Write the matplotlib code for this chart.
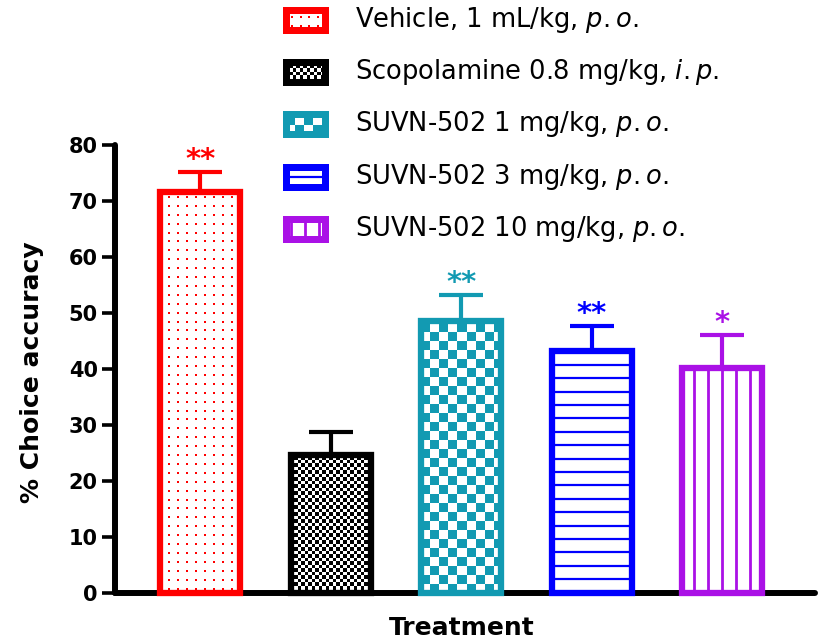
import numpy as np
import matplotlib

matplotlib.use("Agg")
import matplotlib.pyplot as plt
from matplotlib.colors import ListedColormap
from matplotlib.patches import Rectangle


# data
GROUP_LABELS = [
    "Vehicle, 1 mL/kg, ",
    "Scopolamine 0.8 mg/kg, ",
    "SUVN-502 1 mg/kg, ",
    "SUVN-502 3 mg/kg, ",
    "SUVN-502 10 mg/kg, ",
]
ROUTES = ["p.o.", "i.p.", "p.o.", "p.o.", "p.o."]
MEANS = [71.6, 24.6, 48.5, 43.2, 40.2]
SEMS = [3.6, 4.1, 4.7, 4.5, 5.9]
STARS = ["**", "", "**", "**", "*"]
YTICKS = [0, 10, 20, 30, 40, 50, 60, 70, 80]

COLORS = ["#ff0000", "#000000", "#129ab2", "#0000ff", "#aa11e6"]
PATTERNS = ["dots", "fine_check", "check", "hlines", "vlines"]

FIG_W, FIG_H, DPI = 819, 642, 100
plt.rcParams["font.family"] = ["DejaVu Sans"]


def add_pattern(ax, rect, kind, color, sx, sy, z):
    """Fill a rectangle with a GraphPad-like pattern. sx/sy are px per data unit."""
    x0, y0 = rect.get_x(), rect.get_y()
    w, h = rect.get_width(), rect.get_height()
    cx, cy = x0 + w / 2, y0 + h / 2
    arts = []
    if kind == "dots":
        step = 8.9
        n = int(w * sx / step) + 2
        xs = cx + (np.arange(-n, n) + 0.5) * step / sx
        xs = xs[(xs > x0) & (xs < x0 + w)]
        ys = y0 + (np.arange(int(h * sy / step) + 2) + 0.5) * step / sy
        ys = ys[ys < y0 + h]
        gx, gy = np.meshgrid(xs, ys)
        arts.append(ax.scatter(gx.ravel(), gy.ravel(), s=4.5, marker="s",
                               color=color, linewidths=0, zorder=z))
    elif kind in ("check", "fine_check"):
        sq = 3.5 if kind == "fine_check" else 9.0
        nx = int(np.ceil(w * sx / sq)) + 1
        ny = int(np.ceil(h * sy / sq)) + 1
        board = np.add.outer(np.arange(ny), np.arange(nx)) % 2
        im = ax.imshow(board, cmap=ListedColormap(["white", color]), origin="lower",
                       extent=(x0, x0 + nx * sq / sx, y0, y0 + ny * sq / sy),
                       interpolation="nearest", aspect="auto", zorder=z)
        arts.append(im)
    elif kind == "hlines":
        step = 13.4
        n = int(h * sy / step) + 2
        ys = cy + np.arange(-n, n + 1) * step / sy
        ys = ys[(ys > y0) & (ys < y0 + h)]
        arts.append(ax.hlines(ys, x0, x0 + w, color=color, lw=1.6, zorder=z))
    elif kind == "vlines":
        step = 14.0
        n = int(w * sx / step) + 2
        xs = cx + np.arange(-n, n + 1) * step / sx
        xs = xs[(xs > x0) & (xs < x0 + w)]
        arts.append(ax.vlines(xs, y0, y0 + h, color=color, lw=2.0, zorder=z))
    for a in arts:
        a.set_clip_path(rect)


def px_scale(ax):
    p = ax.transData.transform([(0, 0), (1, 1)])
    return p[1, 0] - p[0, 0], p[1, 1] - p[0, 1]


fig = plt.figure(figsize=(FIG_W / DPI, FIG_H / DPI), dpi=DPI)
ax = fig.add_axes([115 / FIG_W, 49 / FIG_H, 700 / FIG_W, 448 / FIG_H])
xlim = (-0.655, 4.709)
ylim = (0, 80)
ax.set_xlim(*xlim)
ax.set_ylim(*ylim)
ax.set_autoscale_on(False)
sx, sy = px_scale(ax)

x = np.arange(len(MEANS))
bar_w = 80 / sx
edge_lw = 6.3 * 72 / DPI

bars = ax.bar(x, MEANS, width=bar_w, color="white", edgecolor="none", zorder=1)
for xi, rect, kind, color in zip(x, bars, PATTERNS, COLORS):
    add_pattern(ax, rect, kind, color, sx, sy, z=2)
    ax.add_patch(Rectangle((rect.get_x(), rect.get_y()), rect.get_width(), rect.get_height(),
                           fill=False, edgecolor=color, lw=edge_lw, joinstyle="miter",
                           zorder=3, clip_on=False))

for xi, m, e, color, star in zip(x, MEANS, SEMS, COLORS, STARS):
    ax.errorbar([xi], [m], yerr=[[0], [e]], fmt="none", ecolor=color,
                elinewidth=3.0, capsize=16, capthick=3.0, zorder=2.5)
    if star:
        ax.annotate(star, xy=(xi, m + e), xytext=(0, -1.5), textcoords="offset points",
                    ha="center", va="bottom", color=color, fontsize=21,
                    fontweight="bold", annotation_clip=False)

ax.set_xlim(*xlim)
ax.set_ylim(*ylim)

for side in ("top", "right"):
    ax.spines[side].set_visible(False)
for side in ("left", "bottom"):
    ax.spines[side].set_linewidth(4.3)
    ax.spines[side].set_capstyle("round")
ax.set_xticks([])
ax.set_yticks(YTICKS)
ax.tick_params(axis="y", direction="out", length=9.5, width=2.6, pad=3,
               labelsize=15)
for lab in ax.get_yticklabels():
    lab.set_fontweight("bold")

fig.text(32 / FIG_W, 1 - 372 / FIG_H, "% Choice accuracy", rotation=90,
         ha="center", va="center", fontsize=18, fontweight="bold")
fig.text(462 / FIG_W, 1 - 628 / FIG_H, "Treatment", ha="center", va="center",
         fontsize=18, fontweight="bold")

# legend drawn by hand so the swatches use the same patterns as the bars
row_y = [20, 72, 124, 177, 229]
for yc, label, route, kind, color in zip(row_y, GROUP_LABELS, ROUTES, PATTERNS, COLORS):
    sw = fig.add_axes([276 / FIG_W, (FIG_H - yc - 18.5) / FIG_H, 58 / FIG_W, 37 / FIG_H])
    sw.set_xlim(0, 58)
    sw.set_ylim(0, 37)
    sw.set_autoscale_on(False)
    sw.axis("off")
    base = Rectangle((9.5, 8.5), 39, 20, facecolor="white", edgecolor="none", zorder=1)
    sw.add_patch(base)
    add_pattern(sw, base, kind, color, 1.0, 1.0, z=2)
    sw.add_patch(Rectangle((9.5, 8.5), 39, 20, fill=False, edgecolor=color,
                           lw=7 * 72 / DPI, joinstyle="miter", zorder=3))
    sw.set_xlim(0, 58)
    sw.set_ylim(0, 37)
    fig.text(355 / FIG_W, 1 - yc / FIG_H, label + r"$\mathit{" + route + "}$",
             ha="left", va="center", fontsize=18.5)

fig.savefig("out.png", dpi=DPI)
